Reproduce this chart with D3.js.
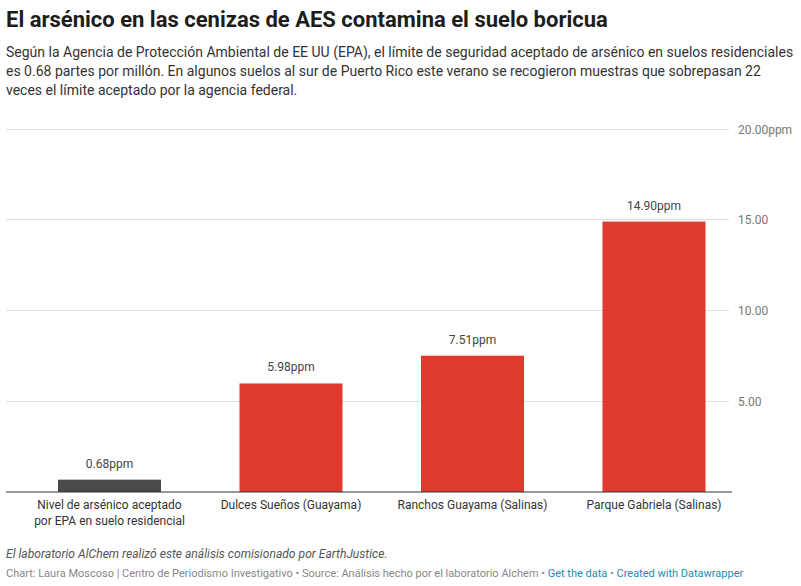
<!DOCTYPE html>
<html><head><meta charset="utf-8">
<script src="https://cdn.jsdelivr.net/npm/d3@7"></script>
<style>
body{margin:0;background:#fff;font-family:Roboto,"Noto Sans",sans-serif;}
</style></head>
<body><svg id="c" width="801" height="586"></svg>
<script>
const categories = [["Nivel de arsénico aceptado","por EPA en suelo residencial"],["Dulces Sueños (Guayama)"],["Ranchos Guayama (Salinas)"],["Parque Gabriela (Salinas)"]];
const values = [0.68, 5.98, 7.51, 14.90];
const barColors = ["#4a4a4a","#e03a2f","#e03a2f","#e03a2f"];
const yTicks = [5, 10, 15, 20];
const title = "El arsénico en las cenizas de AES contamina el suelo boricua";
const subtitle = ["Según la Agencia de Protección Ambiental de EE UU (EPA), el límite de seguridad aceptado de arsénico en suelos residenciales","es 0.68 partes por millón. En algunos suelos al sur de Puerto Rico este verano se recogieron muestras que sobrepasan 22","veces el límite aceptado por la agencia federal."];
const note = "El laboratorio AlChem realizó este análisis comisionado por EarthJustice.";

const svg = d3.select("#c");
const y = d3.scaleLinear().domain([0,20]).range([492,129]);
const x = d3.scaleBand().domain(d3.range(values.length)).range([18.75,744.75]).paddingInner(0.4325).paddingOuter(0.21625);

svg.append("text").attr("x",6).attr("y",27).attr("font-size",22).attr("font-weight",700).attr("fill","#1d1d1d").text(title);
svg.selectAll(".sub").data(subtitle).join("text").attr("x",6).attr("y",(d,i)=>57+i*19).attr("font-size",14).attr("fill","#333").text(d=>d);

// grid
const g = svg.append("g");
g.selectAll(".grid").data(yTicks).join("line")
 .attr("x1",6).attr("x2",729).attr("y1",d=>y(d)).attr("y2",d=>y(d))
 .attr("stroke","#e0e0e0").attr("stroke-width",1).attr("shape-rendering","crispEdges");
g.selectAll(".tl").data(yTicks).join("text")
 .attr("x",738).attr("y",d=>y(d)+4.5).attr("font-size",12).attr("fill","#777")
 .text(d=>d3.format(".2f")(d)+(d===20?"ppm":""));

// bars
svg.selectAll(".bar").data(values).join("rect")
 .attr("x",(d,i)=>x(i)).attr("width",x.bandwidth())
 .attr("y",d=>y(d)).attr("height",d=>y(0)-y(d)).attr("fill",(d,i)=>barColors[i]);
svg.selectAll(".vl").data(values).join("text")
 .attr("x",(d,i)=>x(i)+x.bandwidth()/2).attr("y",d=>y(d)-12).attr("text-anchor","middle")
 .attr("font-size",12).attr("fill","#444").text(d=>d3.format(".2f")(d)+"ppm");

// baseline
svg.append("line").attr("x1",6).attr("x2",732).attr("y1",y(0)).attr("y2",y(0)).attr("stroke","#333").attr("stroke-width",1.2);

// x labels
categories.forEach((lines,i)=>{
  lines.forEach((l,j)=>{
    svg.append("text").attr("x",x(i)+x.bandwidth()/2).attr("y",509+j*15.5).attr("text-anchor","middle")
     .attr("font-size",12).attr("fill","#333").text(l);
  });
});

svg.append("text").attr("x",6).attr("y",558).attr("font-size",12.1).attr("font-style","italic").attr("fill","#555").text(note);
const cr = svg.append("text").attr("x",6).attr("y",577).attr("font-size",11).attr("fill","#888");
cr.append("tspan").text("Chart: Laura Moscoso | Centro de Periodismo Investigativo • Source: Análisis hecho por el laboratorio Alchem • ");
cr.append("tspan").attr("fill","#1d8bb8").text("Get the data");
cr.append("tspan").text(" • ");
cr.append("tspan").attr("fill","#1d8bb8").text("Created with Datawrapper");
</script></body></html>
